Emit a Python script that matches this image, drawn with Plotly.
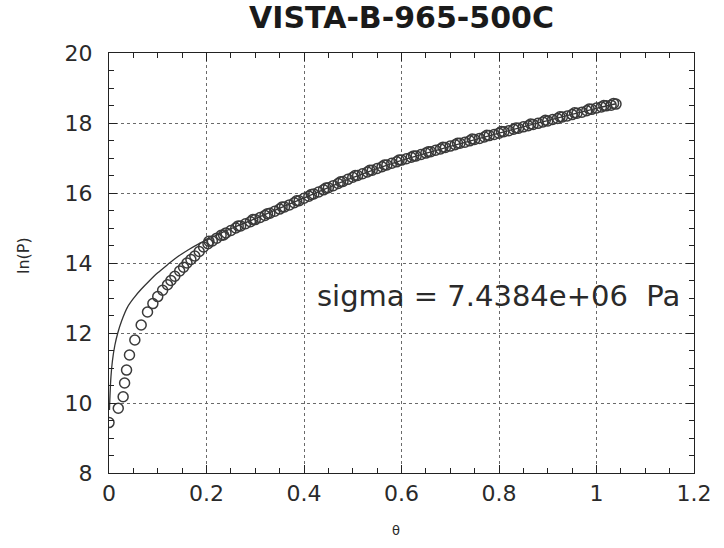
import plotly.graph_objects as go

# strain values (x) and ln(P) values (y) of the measured points (circles)
strain = [0.000, 0.019, 0.029, 0.032, 0.036, 0.042, 0.053, 0.066, 0.079, 0.090,
          0.100, 0.110, 0.120, 0.127, 0.135, 0.145, 0.153, 0.160, 0.168, 0.176,
          0.185, 0.194, 0.203, 0.212, 0.221, 0.230, 0.240, 0.250, 0.260, 0.270,
          0.280, 0.290, 0.300, 0.310, 0.320, 0.330, 0.340, 0.350, 0.360, 0.370,
          0.380, 0.390, 0.400, 0.410, 0.420, 0.430, 0.440, 0.450, 0.460, 0.470,
          0.480, 0.490, 0.500, 0.510, 0.520, 0.530, 0.540, 0.550, 0.560, 0.570,
          0.580, 0.590, 0.600, 0.610, 0.620, 0.630, 0.640, 0.650, 0.660, 0.670,
          0.680, 0.690, 0.700, 0.710, 0.720, 0.730, 0.740, 0.750, 0.760, 0.770,
          0.780, 0.790, 0.800, 0.810, 0.820, 0.830, 0.840, 0.850, 0.860, 0.870,
          0.880, 0.890, 0.900, 0.910, 0.920, 0.930, 0.940, 0.950, 0.960, 0.970,
          0.980, 0.990, 1.000, 1.010, 1.020, 1.030, 1.040,
          0.205, 0.235, 0.265, 0.295, 0.325, 0.355, 0.385, 0.415, 0.445, 0.475,
          0.505, 0.535, 0.565, 0.595, 0.625, 0.655, 0.685, 0.715, 0.745, 0.775,
          0.805, 0.835, 0.865, 0.895, 0.925, 0.955, 0.985, 1.015, 1.035]
lnP = [9.44, 9.85, 10.18, 10.57, 10.94, 11.37, 11.80, 12.23, 12.60, 12.84,
       13.04, 13.22, 13.38, 13.50, 13.62, 13.77, 13.88, 14.00, 14.10, 14.20,
       14.33, 14.46, 14.55, 14.63, 14.71, 14.79, 14.86, 14.93, 15.00, 15.06,
       15.12, 15.18, 15.24, 15.30, 15.36, 15.42, 15.48, 15.54, 15.60, 15.66,
       15.72, 15.78, 15.85, 15.91, 15.97, 16.03, 16.09, 16.15, 16.21, 16.27,
       16.33, 16.39, 16.45, 16.50, 16.55, 16.60, 16.65, 16.70, 16.75, 16.80,
       16.85, 16.89, 16.94, 16.98, 17.02, 17.06, 17.10, 17.14, 17.18, 17.22,
       17.26, 17.30, 17.34, 17.38, 17.42, 17.45, 17.49, 17.53, 17.56, 17.60,
       17.64, 17.67, 17.71, 17.75, 17.78, 17.82, 17.85, 17.89, 17.92, 17.96,
       17.99, 18.03, 18.06, 18.10, 18.13, 18.17, 18.20, 18.24, 18.28, 18.31,
       18.35, 18.39, 18.43, 18.46, 18.49, 18.51, 18.54,
       14.62, 14.80, 15.06, 15.24, 15.41, 15.60, 15.78, 15.96, 16.14, 16.32,
       16.50, 16.65, 16.80, 16.94, 17.06, 17.18, 17.31, 17.42, 17.54, 17.65,
       17.76, 17.86, 17.97, 18.08, 18.18, 18.29, 18.40, 18.50, 18.56]

# fitted curve
fit_strain = [0.001, 0.002, 0.004, 0.007, 0.012, 0.018, 0.026, 0.038, 0.052, 0.066,
              0.082, 0.100, 0.120, 0.140, 0.163, 0.187, 0.220, 0.250, 0.300, 0.400,
              0.500, 0.600, 0.700, 0.800, 0.900, 1.000, 1.040]
fit_lnP = [9.80, 10.20, 10.75, 11.20, 11.65, 12.00, 12.35, 12.74, 13.02, 13.25,
           13.48, 13.72, 13.95, 14.17, 14.38, 14.57, 14.79, 14.98, 15.27, 15.86,
           16.44, 16.93, 17.33, 17.71, 18.07, 18.42, 18.55]

title_text = "VISTA-B-965-500C"
note_text = "sigma = 7.4384e+06\u00a0 Pa"
x_ticks = [0, 0.2, 0.4, 0.6, 0.8, 1.0, 1.2]
x_labels = ["0", "0.2", "0.4", "0.6", "0.8", "1", "1.2"]
y_ticks = [8, 10, 12, 14, 16, 18, 20]
y_labels = ["8", "10", "12", "14", "16", "18", "20"]

FONT = "DejaVu Sans"
INK = "#2a2a2a"
PAD = "<span style='color:rgba(0,0,0,0)'>_</span>"

fig = go.Figure()
fig.add_trace(go.Scatter(x=fit_strain, y=fit_lnP, mode="lines",
                         line=dict(color="#333333", width=1.3, shape="spline"),
                         showlegend=False, hoverinfo="skip"))
fig.add_trace(go.Scatter(x=strain, y=lnP, mode="markers",
                         marker=dict(symbol="circle-open", size=10,
                                     color="#3a3a3a", line=dict(width=1.5)),
                         showlegend=False))

axis_common = dict(showline=True, linecolor="#222222", linewidth=1.3, mirror="allticks",
                   ticks="inside", ticklen=8, tickcolor="#222222", tickwidth=1.3,
                   showgrid=True, gridcolor="#6a6a6a", gridwidth=1, griddash="dot",
                   zeroline=False, tickmode="array",
                   tickfont=dict(family=FONT, size=22, color=INK))

fig.update_xaxes(range=[0, 1.2], tickvals=x_ticks, ticktext=x_labels,
                 minor=dict(ticks="inside", ticklen=5, dtick=0.05, tick0=0,
                            tickcolor="#222222", tickwidth=1.2, showgrid=False),
                 **axis_common)
fig.update_yaxes(range=[8, 20], tickvals=y_ticks,
                 ticktext=[lab + PAD for lab in y_labels],
                 minor=dict(ticks="inside", ticklen=5, dtick=0.5, tick0=8,
                            tickcolor="#222222", tickwidth=1.2, showgrid=False),
                 **axis_common)

fig.update_layout(
    width=724, height=548,
    margin=dict(l=109, r=21, t=53, b=75),
    paper_bgcolor="white", plot_bgcolor="white",
    title=dict(text="<b>" + title_text + "</b>", x=0.5, xref="paper", xanchor="center",
               y=1 - 17 / 548, yref="container", yanchor="middle",
               font=dict(family=FONT, size=30, color="#1a1a1a")),
    annotations=[
        dict(text=note_text, x=0.798, y=13.06, xref="x", yref="y",
             showarrow=False, xanchor="center", yanchor="middle",
             font=dict(family=FONT, size=29, color=INK)),
        dict(text="\u03b8", x=0.49, y=-0.136, xref="paper", yref="paper",
             showarrow=False, xanchor="center", yanchor="middle",
             font=dict(family=FONT, size=13, color=INK)),
        dict(text="ln(P)", x=-0.145, y=0.517, xref="paper", yref="paper",
             showarrow=False, textangle=-90, xanchor="center", yanchor="middle",
             font=dict(family=FONT, size=16, color=INK)),
    ],
)

fig.write_html("out.html")
